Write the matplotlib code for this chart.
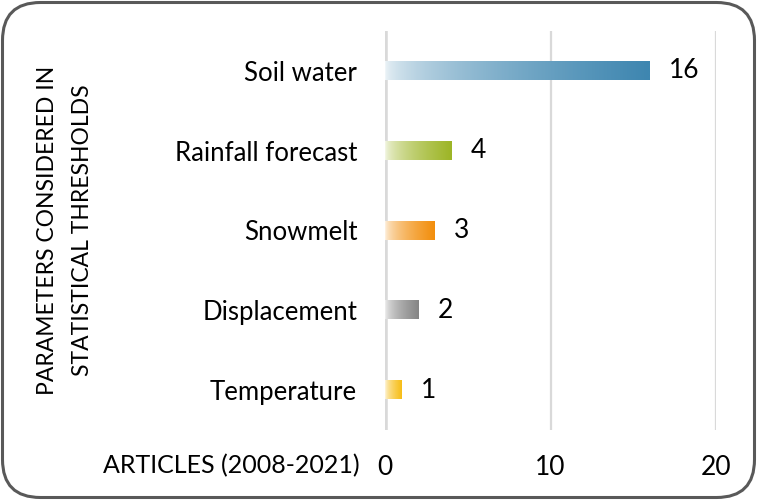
"""Parameters considered in statistical thresholds, articles 2008-2021.
Horizontal gradient bars, saved to out.png.
"""
import numpy as np
import matplotlib; matplotlib.use("Agg")
import matplotlib.pyplot as plt
from matplotlib.colors import LinearSegmentedColormap
from matplotlib.patches import FancyBboxPatch

INK = "#000000"; GRID = "#D9D9D9"; FRAME = "#595959"

plt.rcParams.update({
    "font.family": ["Lato", "DejaVu Sans"], "font.size": 18.5,
    "text.color": INK, "xtick.color": INK, "ytick.color": INK,
    "figure.facecolor": "white", "savefig.facecolor": "white",
})

categories = ["Soil water", "Rainfall forecast", "Snowmelt", "Displacement", "Temperature"]
articles = [16, 4, 3, 2, 1]
bar_end = ["#3E86B0", "#9DB526", "#F28E0C", "#858585", "#F7BE17"]
xticks = [0, 10, 20]

fig = plt.figure(figsize=(7.57, 5.0), dpi=100)
ax = fig.add_axes([385 / 757, 1 - 430 / 500, 331 / 757, 399 / 500])

ypos = np.arange(len(categories))[::-1]
H = 0.115
grad = 0.08 + 0.92 * np.linspace(0, 1, 256) ** 0.55
for y, v, c in zip(ypos, articles, bar_end):
    cmap = LinearSegmentedColormap.from_list("g", ["#FFFFFF", c])
    ax.imshow(grad[None, :], cmap=cmap, vmin=0, vmax=1, aspect="auto",
              extent=[0, v, y - H, y + H], zorder=3, interpolation="bilinear")
    ax.annotate(str(v), (v, y), xytext=(14, 0), textcoords="offset points",
                va="center", ha="left", fontsize=19)

ax.set_xlim(0, 20)
ax.set_ylim(-0.5, len(categories) - 0.5)
ax.set_yticks(ypos, categories)
ax.set_xticks(xticks, [str(t) for t in xticks])
ax.tick_params(length=0, axis="y", pad=20)
ax.tick_params(length=0, axis="x", pad=18, labelsize=19)
for sp in ax.spines.values():
    sp.set_visible(False)
for t in xticks:
    ax.axvline(t, color=GRID, lw=4 if t == 0 else 1.6, zorder=1)

fig.text(360 / 757, 1 - 466 / 500, "ARTICLES (2008-2021)", ha="right", va="center", fontsize=18)
fig.text(65 / 757, 1 - 230 / 500, "PARAMETERS CONSIDERED IN\nSTATISTICAL THRESHOLDS",
         rotation=90, ha="center", va="center", multialignment="center", fontsize=16.5,
         linespacing=1.85)

frame = FancyBboxPatch((0.025, 0.025), 7.52, 4.95, boxstyle="round,pad=0,rounding_size=0.38",
                       transform=fig.dpi_scale_trans, fill=False, ec=FRAME, lw=2.2)
fig.patches.append(frame)

fig.savefig("out.png", dpi=100)
